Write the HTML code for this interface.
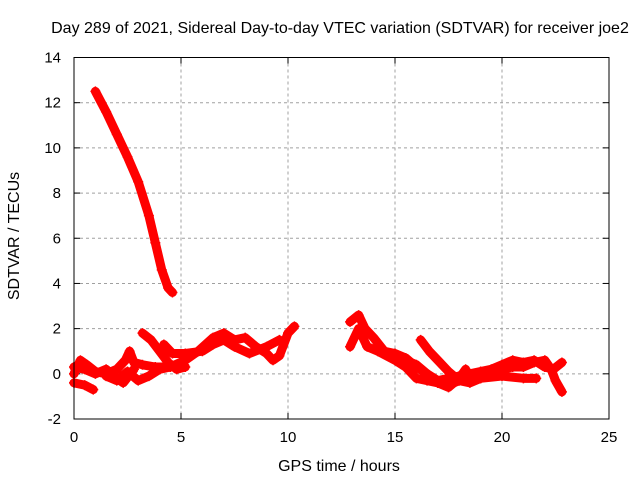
<!DOCTYPE html>
<html><head><meta charset="utf-8"><style>
body{margin:0;background:#fff}
svg{display:block;font-family:"Liberation Sans",Arial,sans-serif;font-size:15px}
</style></head><body>
<svg id="c" width="640" height="480">
<text x="340" y="33" text-anchor="middle" font-size="16">Day 289 of 2021, Sidereal Day-to-day VTEC variation (SDTVAR) for receiver joe2</text>
<text x="339" y="471" text-anchor="middle" font-size="16">GPS time / hours</text>
<text transform="translate(19,236) rotate(-90)" text-anchor="middle" font-size="16">SDTVAR / TECUs</text>
<g id="grid"></g><g id="marks"></g>
<rect x="74" y="57.5" width="535" height="361.5" fill="none" stroke="#000" stroke-width="1"/>
</svg>
<script>
const xTicks=[0,5,10,15,20,25];
const yTicks=[-2,0,2,4,6,8,10,12,14];
const seriesHours=[
[1.0,1.5,2.0,2.5,3.0,3.5,3.8,4.1,4.4,4.6],
[0,0.3,0.6,1,1.5,2,2.4,2.6,2.8,3.2,3.8,4.5,5.2,5.8,6.5,7,7.5,8,8.5,9,9.3,9.6,10,10.3],
[3.2,3.6,4.0,4.4,4.8,5.2],
[4.2,4.6,5.2,6,6.5,7,7.5,8.2,9,9.6],
[0,0.5,0.9],
[1.5,2,2.5,3,3.5,4,4.5],
[0,0.5,1,1.5,2,2.3,2.8],
[12.9,13.3,13.6,14,14.5,15,15.5,16,16.5,17,17.5,18,18.5,19,19.5,20,20.5,21,21.5,22,22.4,22.8],
[12.9,13.3,13.7,14.2,15,15.5,16,16.5,17,17.5,18,19,20,21,21.6],
[16.2,16.6,17,17.5,18,18.5,19,19.5,20,20.5,21,21.5,22,22.3,22.5,22.8],
[15.5,16,16.5,17,17.5,18,18.3]
];
const seriesValues=[
[12.5,11.6,10.6,9.6,8.5,7.0,5.8,4.6,3.8,3.6],
[0,0.6,0.4,0.1,0.0,0.2,0.6,1.0,0.5,0.4,0.3,0.3,0.6,1.0,1.6,1.8,1.5,1.6,1.2,0.9,0.6,0.8,1.8,2.1],
[1.8,1.5,1.0,0.5,0.2,0.3],
[1.3,0.9,0.9,1.0,1.3,1.5,1.2,0.9,1.2,1.5],
[-0.4,-0.5,-0.7],
[-0.1,-0.3,0.1,-0.3,-0.1,0.2,0.3],
[0.3,0.2,0,0.2,-0.2,-0.4,0.2],
[2.3,2.6,2.0,1.6,1.0,0.9,0.7,0.3,0.0,-0.3,-0.2,-0.1,0.0,0.1,0.2,0.4,0.6,0.5,0.6,0.3,0.2,0.5],
[1.2,2.0,1.2,1.0,0.6,0.3,-0.2,-0.3,-0.4,-0.5,-0.3,-0.2,-0.1,-0.2,-0.2],
[1.5,1.0,0.6,0.1,-0.3,-0.4,-0.2,0.0,0.2,0.3,0.3,0.5,0.6,0.2,-0.3,-0.8],
[0.6,0.4,0,-0.4,-0.6,-0.2,0.2]
];
const X=h=>74+h*(535/25);
const Y=v=>419-(v+2)*(361.5/16);
const NS="http://www.w3.org/2000/svg";
const grid=document.getElementById('grid'),marks=document.getElementById('marks');
function mk(t,a,p){const e=document.createElementNS(NS,t);for(const k in a)e.setAttribute(k,a[k]);p.appendChild(e);return e;}
xTicks.forEach(t=>{
 const x=X(t);
 if(t>0&&t<25){const l=mk('line',{x1:x,x2:x,y1:57.5,y2:419,stroke:'#a0a0a0','stroke-dasharray':'3,3'},grid);
 
 }
 mk('line',{x1:x,x2:x,y1:419,y2:413,stroke:'#000'},grid);
 mk('line',{x1:x,x2:x,y1:57.5,y2:63.5,stroke:'#000'},grid);
 const tx=mk('text',{x:x,y:442,'text-anchor':'middle'},grid);tx.textContent=t;
 
 
});
yTicks.forEach(t=>{
 const y=Y(t);
 if(t>-2&&t<14){const l=mk('line',{x1:74,x2:609,y1:y,y2:y,stroke:'#a0a0a0','stroke-dasharray':'3,3'},grid);
 
 }
 mk('line',{x1:74,x2:80,y1:y,y2:y,stroke:'#000'},grid);
 mk('line',{x1:603,x2:609,y1:y,y2:y,stroke:'#000'},grid);
 const tx=mk('text',{x:61,y:y+5,'text-anchor':'end'},grid);tx.textContent=t;
 
 
});
seriesHours.forEach((hs,i)=>{
 const vs=seriesValues[i];
 const pts=hs.map((h,j)=>X(h)+','+Y(vs[j])).join(' ');
 const pl=mk('polyline',{points:pts,fill:'none',stroke:'#f00','stroke-width':9,'stroke-linejoin':'round','stroke-linecap':'round'},marks);
 
 
 hs.forEach((h,j)=>{
  const x=X(h),y=Y(vs[j]);
  const p=mk('path',{d:`M${x-5},${y}H${x+5}M${x},${y-5}V${y+5}`,stroke:'#f00','stroke-width':1.5},marks);
  
  
 });
});
</script>
</body></html>
